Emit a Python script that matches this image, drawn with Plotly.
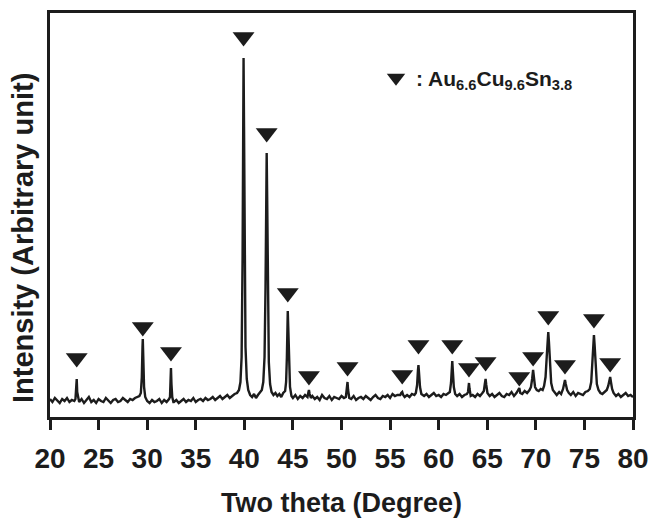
import plotly.graph_objects as go

# ---- XRD trace (two theta in degrees, intensity in arbitrary units) ----
trace_x = [
    20.0, 20.25, 20.5, 20.75, 21.0, 21.25, 21.5, 21.75, 22.0, 22.25, 22.5,
    22.62, 22.7, 22.75, 22.8, 22.9,
    23.0, 23.25, 23.5, 23.75, 24.0, 24.25, 24.5, 24.75, 25.0, 25.25, 25.5, 25.75,
    26.0, 26.25, 26.5, 26.75, 27.0, 27.25, 27.5, 27.75, 28.0, 28.25, 28.5, 28.75, 29.0,
    29.2, 29.35, 29.45, 29.52, 29.55, 29.6, 29.68, 29.8, 29.95,
    30.0, 30.25, 30.5, 30.75, 31.0, 31.25, 31.5, 31.75, 32.0, 32.25,
    32.35, 32.4, 32.45, 32.5, 32.58, 32.7,
    32.75, 33.0, 33.25, 33.5, 33.75, 34.0, 34.25, 34.5, 34.75, 35.0, 35.25, 35.5, 35.75,
    36.0, 36.25, 36.5, 36.75, 37.0, 37.25, 37.5, 37.75, 38.0, 38.25, 38.5, 38.75, 39.0,
    39.25, 39.45, 39.6, 39.72, 39.82, 39.88, 39.92, 39.97, 40.03, 40.12, 40.25, 40.4, 40.6,
    40.8, 41.0, 41.2, 41.4, 41.6,
    41.8, 41.95, 42.08, 42.18, 42.25, 42.3, 42.35, 42.43, 42.52, 42.65, 42.8, 43.0,
    43.2, 43.4, 43.6, 43.8, 44.0,
    44.2, 44.3, 44.38, 44.44, 44.47, 44.52, 44.6, 44.7, 44.85,
    45.0, 45.25, 45.5, 45.75, 46.0, 46.25,
    46.5, 46.6, 46.65, 46.72, 46.85,
    47.0, 47.25, 47.5, 47.75, 48.0, 48.25, 48.5, 48.75, 49.0, 49.25, 49.5, 49.75, 50.0, 50.25,
    50.45, 50.55, 50.62, 50.68, 50.8,
    51.0, 51.25, 51.5, 51.75, 52.0, 52.25, 52.5, 52.75, 53.0, 53.25, 53.5, 53.75,
    54.0, 54.25, 54.5, 54.75, 55.0, 55.25, 55.5, 55.75,
    56.05, 56.15, 56.25, 56.35, 56.5,
    56.75, 57.0, 57.25, 57.5,
    57.65, 57.78, 57.87, 57.92, 57.98, 58.08, 58.22,
    58.5, 58.75, 59.0, 59.25, 59.5, 59.75, 60.0, 60.25, 60.5, 60.75, 61.0,
    61.15, 61.27, 61.35, 61.4, 61.46, 61.56, 61.7,
    61.9, 62.15, 62.4, 62.65, 62.9,
    63.02, 63.08, 63.12, 63.18, 63.3,
    63.5, 63.75, 64.0, 64.25, 64.5,
    64.65, 64.75, 64.83, 64.9, 65.02,
    65.25, 65.5, 65.75, 66.0, 66.25, 66.5, 66.75, 67.0, 67.25, 67.5, 67.75, 68.0,
    68.15, 68.3, 68.4,
    68.6, 68.85, 69.1, 69.35,
    69.5, 69.62, 69.72, 69.8, 69.92, 70.1, 70.3, 70.5, 70.7,
    70.85, 71.0, 71.12, 71.22, 71.28, 71.35, 71.45, 71.58, 71.75, 71.95,
    72.15, 72.4, 72.6,
    72.8, 72.92, 73.0, 73.08, 73.22, 73.4,
    73.6, 73.85, 74.1, 74.35, 74.6, 74.85, 75.1, 75.35,
    75.55, 75.7, 75.82, 75.92, 75.98, 76.05, 76.15, 76.28, 76.45, 76.65,
    76.85, 77.1, 77.3,
    77.45, 77.57, 77.65, 77.73, 77.85, 78.0,
    78.25, 78.5, 78.75, 79.0, 79.25, 79.5, 79.75, 80.0,
]
trace_y = [
    18, 15, 19, 16, 14, 18, 16, 19, 15, 17, 16,
    18, 26, 38, 25, 17,
    15, 18, 14, 17, 20, 15, 17, 14, 18, 16, 15, 19,
    16, 14, 17, 18, 15, 16, 19, 17, 15, 18, 17, 19, 20,
    21, 24, 40, 70, 78, 60, 30, 20, 17,
    16, 14, 17, 15, 16, 18, 14, 17, 15, 18,
    20, 35, 49, 33, 20, 15,
    15, 17, 14, 16, 18, 15, 17, 16, 19, 15, 17, 18, 16,
    19, 17, 18, 20, 17, 19, 21, 18, 20, 22, 19, 21, 23,
    24, 27, 35, 60, 160, 300, 359, 290, 150, 70, 38, 27, 22,
    20, 23, 19, 22, 24,
    27, 35, 60, 130, 230, 264, 220, 110, 55, 33, 25, 22,
    24, 21, 23, 20, 24,
    26, 35, 60, 95, 106, 90, 50, 30, 21,
    19, 22, 18, 21, 19, 22,
    20, 25, 27, 23, 19,
    21, 18, 20, 17, 22, 19, 18, 21, 17, 20, 19, 18, 21, 19,
    20, 28, 35, 27, 19,
    18, 21, 17, 19, 20, 18, 21, 19, 17, 20, 22, 19,
    18, 21, 20, 22, 19, 23, 21, 22,
    22, 24, 25, 22, 20,
    22, 20, 23, 22,
    24, 32, 47, 52, 44, 30, 23,
    21, 23, 20, 22, 24, 21, 22, 20, 23, 22, 24,
    25, 34, 50, 56, 46, 30, 23,
    21, 23, 20, 22, 23,
    25, 30, 34, 28, 21,
    22, 20, 23, 21, 24,
    26, 33, 38, 32, 24,
    21, 23, 20, 22, 24, 21, 20, 23, 22, 25, 21, 24,
    26, 29, 24,
    23, 26, 24, 27,
    30, 38, 47, 40, 30, 27, 26, 28, 27,
    31, 40, 60, 80, 85, 75, 50, 34, 27, 24,
    22, 25, 23,
    28, 34, 37, 33, 27, 24,
    22, 25, 21, 24, 23, 22, 25, 26,
    28, 35, 55, 78, 82, 72, 48, 33, 27, 24,
    23, 25, 27,
    31, 37, 40, 35, 28, 24,
    21, 23, 20, 22, 24, 21, 22, 20,
]

# ---- Au6.6Cu9.6Sn3.8 reflections (marker positions) ----
peak_x = [22.75, 29.55, 32.45, 39.92, 42.3, 44.47, 46.65, 50.62, 56.25, 57.92,
          61.4, 63.12, 64.83, 68.3, 69.72, 71.28, 73.0, 75.98, 77.65]
marker_y = [59, 90, 65, 380, 284, 124, 41, 50, 42, 72,
            72, 49, 55, 40, 60, 101, 52, 98, 54]

x_ticks = [20, 25, 30, 35, 40, 45, 50, 55, 60, 65, 70, 75, 80]

x_title = "Two theta (Degree)"
y_title = "Intensity (Arbitrary unit)"
legend_name = ": Au<sub>6.6</sub>Cu<sub>9.6</sub>Sn<sub>3.8</sub>"

INK = "#1c1c1c"
FONT = "Liberation Sans, Arial, Helvetica, sans-serif"

fig = go.Figure()
fig.add_trace(go.Scatter(
    x=trace_x, y=trace_y, mode="lines",
    line=dict(color=INK, width=2.4), showlegend=False, hoverinfo="skip",
))
fig.add_trace(go.Scatter(
    x=peak_x, y=marker_y, mode="markers", name=legend_name,
    marker=dict(symbol="triangle-down", size=19, color=INK, line=dict(width=0)),
    showlegend=True,
))

fig.update_layout(
    width=651, height=518,
    margin=dict(l=50, r=18, t=13, b=101, autoexpand=False),
    paper_bgcolor="white", plot_bgcolor="white",
    font=dict(family=FONT, color=INK),
    showlegend=True,
    legend=dict(
        x=(376 - 50) / 583, xanchor="left",
        y=(417 - 78) / 404, yanchor="middle",
        bgcolor="rgba(0,0,0,0)", borderwidth=0,
        font=dict(family=FONT, size=21, weight="bold", color=INK),
        itemsizing="trace",
    ),
    xaxis=dict(
        range=[20, 80], tickmode="array", tickvals=x_ticks,
        ticktext=[str(t) for t in x_ticks],
        ticks="outside", ticklen=10, tickwidth=3, tickcolor=INK,
        ticklabelstandoff=5, automargin=False,
        showline=True, linewidth=2.5, linecolor=INK, mirror=True,
        showgrid=False, zeroline=False,
        tickfont=dict(family=FONT, size=28, weight="bold", color=INK),
        title=dict(text=x_title, standoff=20,
                   font=dict(family=FONT, size=27, weight="bold", color=INK)),
    ),
    yaxis=dict(
        range=[0, 404], showticklabels=False, ticks="", automargin=False,
        showline=True, linewidth=3, linecolor=INK, mirror=True,
        showgrid=False, zeroline=False,
    ),
    annotations=[dict(
        text=y_title, textangle=-90, showarrow=False,
        xref="paper", yref="paper",
        x=-(50 - 23) / 583, xanchor="center",
        y=(417 - 238) / 404, yanchor="middle",
        font=dict(family=FONT, size=29, weight="bold", color=INK),
    )],
)

fig.write_html("out.html")
